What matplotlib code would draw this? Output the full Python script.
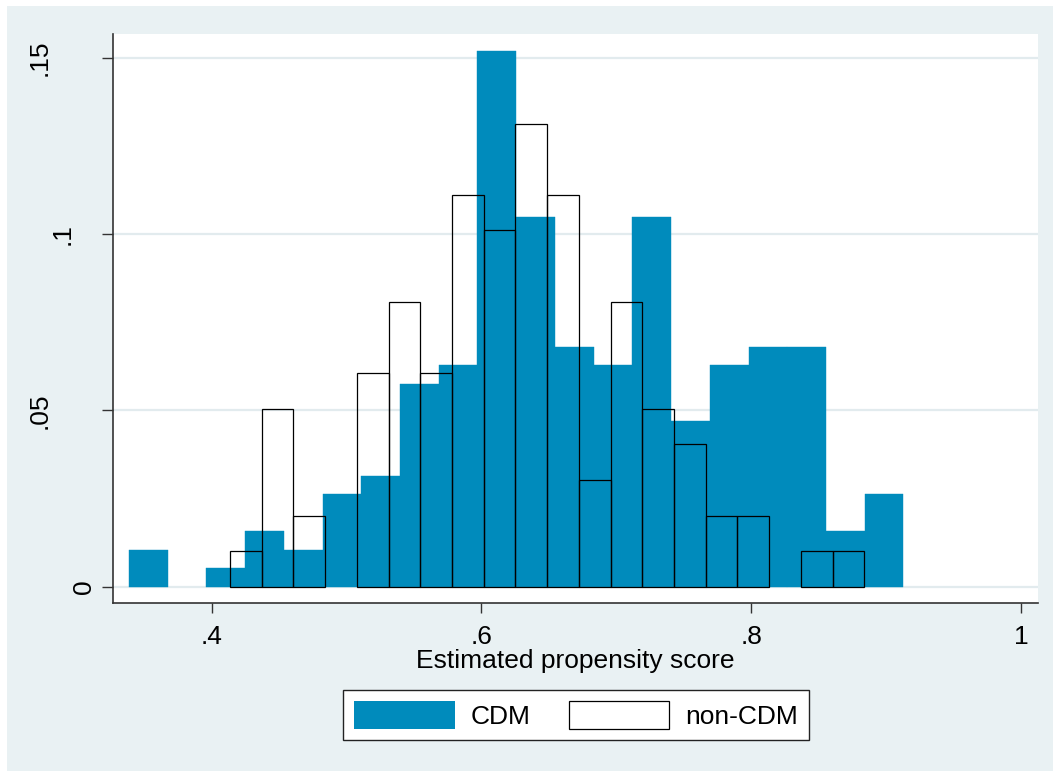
import numpy as np
import matplotlib
matplotlib.use('Agg')
import matplotlib.pyplot as plt
from matplotlib.patches import Patch, Rectangle
from matplotlib.transforms import blended_transform_factory

plt.rcParams['font.family'] = ['Liberation Sans', 'DejaVu Sans']

# ---------------- data ----------------
cdm_bin_start = 0.3388
cdm_bin_width = 0.0287
cdm_fraction = [0.0105, 0.0, 0.0052, 0.0157, 0.0105, 0.0262, 0.0314, 0.0576,
                0.0628, 0.1518, 0.1047, 0.0681, 0.0628, 0.1047, 0.0471, 0.0628,
                0.0681, 0.0681, 0.0157, 0.0262]

noncdm_bin_start = 0.4136
noncdm_bin_width = 0.02351
noncdm_fraction = [0.0101, 0.0505, 0.0202, 0.0, 0.0606, 0.0808, 0.0606, 0.1111,
                   0.1010, 0.1313, 0.1111, 0.0303, 0.0808, 0.0505, 0.0404, 0.0202,
                   0.0202, 0.0, 0.0101, 0.0101]

x_ticks = [0.4, 0.6, 0.8, 1.0]
x_tick_labels = ['.4', '.6', '.8', '1']
y_ticks = [0.0, 0.05, 0.10, 0.15]
y_tick_labels = ['0', '.05', '.1', '.15']
series_labels = ['CDM', 'non-CDM']
x_title = 'Estimated propensity score'

# ---------------- style ----------------
W, H = 1053, 771
BG = '#E9F1F3'
GRID = '#E2EBEE'
BLUE = '#008BBC'
AXC = '#333333'
FS = 19

fig = plt.figure(figsize=(W / 100, H / 100), dpi=100)
fig.patch.set_facecolor('white')
fig.add_artist(Rectangle((7 / W, 0), 1 - 7 / W, 1 - 6 / H, transform=fig.transFigure,
                         facecolor=BG, edgecolor='none', zorder=-10))

ax = fig.add_axes([113 / W, 1 - 603 / H, (1038 - 113) / W, (603 - 34) / H])
ax.set_facecolor('white')
ax.set_xlim(0.3269, 1.0126)
ax.set_ylim(-0.0046, 0.1567)

# CDM histogram (filled)
cdm = np.array(cdm_fraction)
cdm_left = cdm_bin_start + cdm_bin_width * np.arange(len(cdm))
m1 = cdm > 0
ax.bar(cdm_left[m1], cdm[m1], width=cdm_bin_width, align='edge',
       color=BLUE, edgecolor=BLUE, linewidth=0.3, zorder=2)

# non-CDM histogram (outline only)
non = np.array(noncdm_fraction)
non_left = noncdm_bin_start + noncdm_bin_width * np.arange(len(non))
m2 = non > 0
ax.bar(non_left[m2], non[m2], width=noncdm_bin_width, align='edge',
       facecolor='none', edgecolor='black', linewidth=0.9, zorder=3)

# grid, spines, ticks
ax.set_axisbelow(True)
ax.yaxis.grid(True, color=GRID, linewidth=1.6)
for s in ['top', 'right']:
    ax.spines[s].set_visible(False)
for s in ['left', 'bottom']:
    ax.spines[s].set_color(AXC)
    ax.spines[s].set_linewidth(1.2)

ax.set_xticks(x_ticks, x_tick_labels)
ax.tick_params(axis='x', length=7.2, width=1, color=AXC, pad=8.6, labelsize=FS)
ax.set_yticks(y_ticks)
ax.tick_params(axis='y', length=7.9, width=1, color=AXC, labelleft=False)

# rotated y tick labels (Stata-like placement)
trans = blended_transform_factory(fig.transFigure, ax.transData)
label_baseline_px = [91.5, 46.5, 70.0, 46.5]
for yv, lab, px in zip(y_ticks, y_tick_labels, label_baseline_px):
    ax.text(px / W, yv, lab, transform=trans, rotation=90, rotation_mode='anchor',
            ha='center', va='baseline', fontsize=FS, clip_on=False)

ax.set_xlabel(x_title, fontsize=FS, labelpad=0)

# legend
handles = [Patch(facecolor=BLUE, edgecolor='none'),
           Patch(facecolor='white', edgecolor='black', linewidth=0.9)]
leg = fig.legend(handles, series_labels, ncol=2, loc='center',
                 bbox_to_anchor=(575.9 / W, 1 - 715 / H), fontsize=FS,
                 frameon=True, fancybox=False, framealpha=1, edgecolor='#222222',
                 handlelength=3.8, handleheight=1.3, handletextpad=0.6,
                 columnspacing=1.45, borderpad=0.42, borderaxespad=0)
leg.get_frame().set_linewidth(1.0)

fig.savefig('out.png', dpi=100, facecolor=fig.get_facecolor())
